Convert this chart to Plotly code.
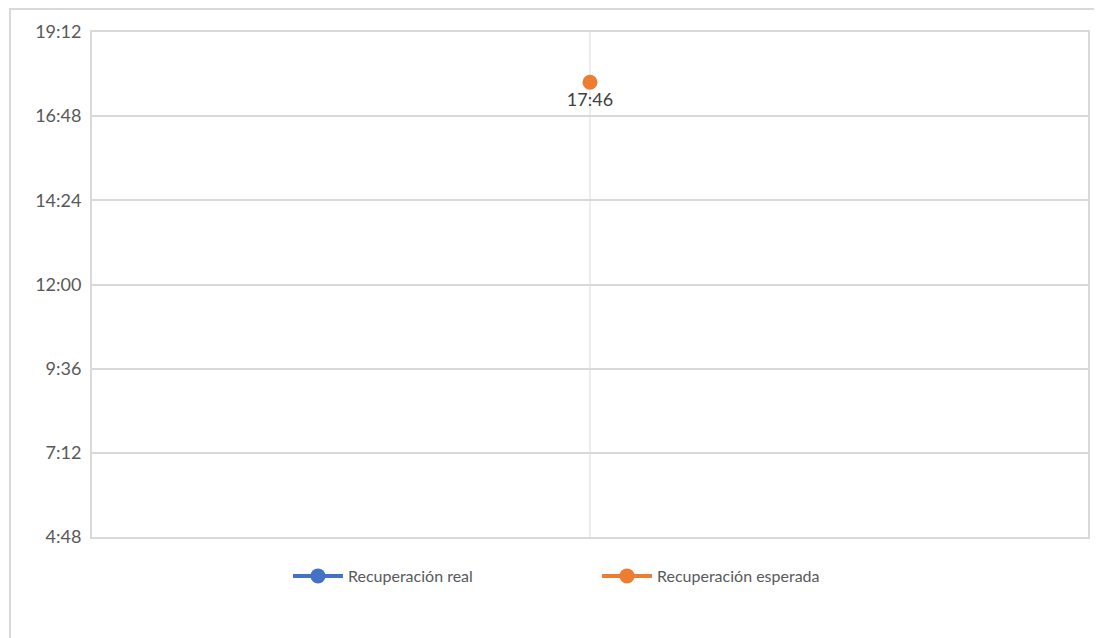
import plotly.graph_objects as go

categories = [1]
real_minutes = [None]
expected_minutes = [1066]  # 17:46
expected_labels = ["17:46"]
tick_minutes = [288, 432, 576, 720, 864, 1008, 1152]
tick_labels = ["4:48", "7:12", "9:36", "12:00", "14:24", "16:48", "19:12"]

FONT = "Lato, 'Open Sans', sans-serif"
GRID = "#d9d9d9"

# plot area in figure pixels
L, R, T, B = 84, 1080, 24, 529
W, H = 1102, 638
PW, PH = R - L, B - T

fig = go.Figure()
fig.add_trace(go.Scatter(
    x=categories, y=real_minutes, name="Recuperación real",
    mode="lines+markers",
    line=dict(color="#4472c4", width=4),
    marker=dict(color="#4472c4", size=15),
))
fig.add_trace(go.Scatter(
    x=categories, y=expected_minutes, name="Recuperación esperada",
    mode="lines+markers+text",
    text=expected_labels, textposition="bottom center",
    textfont=dict(size=18, color="#404040", family=FONT),
    line=dict(color="#ed7d31", width=4),
    marker=dict(color="#ed7d31", size=15),
))

fig.update_layout(
    width=W, height=H,
    margin=dict(l=L, r=W - R, t=T, b=H - B),
    paper_bgcolor="white", plot_bgcolor="white",
    font=dict(family=FONT, color="#595959", size=15),
    showlegend=True,
    legend=dict(orientation="h", x=(280 - L) / PW, xanchor="left",
                y=-22 / PH, yanchor="top",
                font=dict(size=16, color="#595959"),
                entrywidth=244, entrywidthmode="pixels", itemwidth=50),
    xaxis=dict(range=[0.5, 1.5], tickvals=categories, showticklabels=False,
               showgrid=True, gridcolor="#ededed", gridwidth=1.5,
               showline=True, linecolor=GRID, linewidth=2, mirror=True,
               zeroline=False, fixedrange=True),
    yaxis=dict(range=[288, 1152], tickvals=tick_minutes, ticktext=tick_labels,
               showgrid=True, gridcolor=GRID, gridwidth=2,
               showline=True, linecolor=GRID, linewidth=2, mirror=True,
               zeroline=False, ticks="", ticklabelstandoff=5,
               tickfont=dict(size=18, color="#595959")),
    shapes=[dict(type="rect", xref="paper", yref="paper",
                 x0=(2 - L) / PW, x1=1.2, y0=-0.5, y1=(B - 1) / PH,
                 line=dict(color=GRID, width=2), fillcolor="rgba(0,0,0,0)", layer="below")],
)

fig.write_html("out.html")
